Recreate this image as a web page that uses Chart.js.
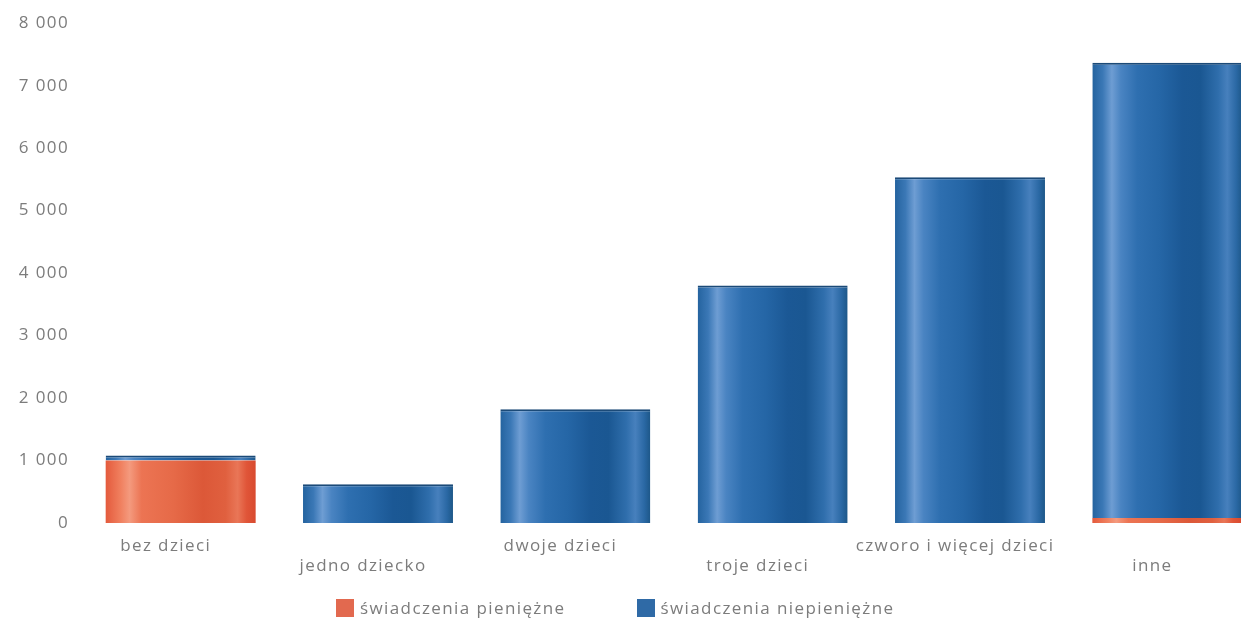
<!DOCTYPE html>
<html>
<head>
<meta charset="utf-8">
<script src="https://cdn.jsdelivr.net/npm/chart.js@4"></script>
<style>
  html, body { margin: 0; padding: 0; background: #fff; overflow: hidden; width: 1241px; height: 620px; }
  #wrap { position: absolute; left: 0; top: 0; width: 1266px; height: 598px; }
  #legend { position: absolute; left: 336px; top: 596px; display: flex; align-items: center;
            font-family: 'Open Sans', sans-serif; font-size: 17px; color: #7c7c7c; letter-spacing: 1.4px; white-space: nowrap; }
  .item { display: flex; align-items: center; }
  .item + .item { margin-left: 71px; }
  .box { width: 18px; height: 18px; margin-right: 6px; }
</style>
</head>
<body>
<div id="wrap"><canvas id="c"></canvas></div>
<div id="legend"></div>
<script>
// ---- data ----
const categories = ['bez dzieci', 'jedno dziecko', 'dwoje dzieci', 'troje dzieci', 'czworo i więcej dzieci', 'inne'];
const seriesNames = ['świadczenia pieniężne', 'świadczenia niepieniężne'];
const pieniezne = [1000, 0, 0, 0, 0, 80];
const niepieniezne = [80, 620, 1820, 3800, 5535, 7285];
const yTicks = [0, 1000, 2000, 3000, 4000, 5000, 6000, 7000, 8000];
const seriesColors = ['#e2694f', '#2f6aa6'];

// ---- styling helpers ----
const CAT_PCT = 0.76;
const redStops = [[0, '#e45a3c'], [0.1, '#f0805f'], [0.16, '#f49a7e'], [0.24, '#ec7453'], [0.45, '#e66a48'], [0.65, '#dc5838'], [0.8, '#e0603f'], [0.88, '#e97657'], [0.94, '#e05538'], [1, '#d84a2f']];
const blueStops = [[0, '#24639f'], [0.07, '#3b78b6'], [0.13, '#6e9dd3'], [0.19, '#4a84c2'], [0.3, '#2e6fb0'], [0.45, '#2566a6'], [0.6, '#1b5895'], [0.72, '#1a5792'], [0.84, '#2f6eac'], [0.9, '#4780bd'], [0.96, '#2a68a4'], [1, '#1d5788']];

function barGradient(stops, fallback) {
  return (ctx) => {
    const chart = ctx.chart;
    const xs = chart.scales && chart.scales.x;
    if (ctx.type !== 'data' || !xs || !chart.chartArea) return fallback;
    const cx = xs.getPixelForValue(ctx.dataIndex);
    const w = (xs.width / categories.length) * CAT_PCT;
    const g = chart.ctx.createLinearGradient(cx - w / 2, 0, cx + w / 2, 0);
    stops.forEach(([o, c]) => g.addColorStop(o, c));
    return g;
  };
}

const spacingPlugin = {
  id: 'spacing',
  beforeUpdate(c) { c.ctx.letterSpacing = '1.4px'; },
  beforeLayout(c) { c.ctx.letterSpacing = '1.4px'; },
  beforeDraw(c) { c.ctx.letterSpacing = '1.4px'; }
};

const font = { family: "'Open Sans', sans-serif", size: 17, weight: 'normal' };

new Chart(document.getElementById('c'), {
  type: 'bar',
  data: {
    labels: categories,
    datasets: [
      { label: seriesNames[0], data: pieniezne, backgroundColor: barGradient(redStops, seriesColors[0]), borderWidth: 0 },
      { label: seriesNames[1], data: niepieniezne, backgroundColor: barGradient(blueStops, seriesColors[1]),
        borderColor: '#1b4a78', borderWidth: { top: 2, left: 0, right: 0, bottom: 0 } }
    ]
  },
  options: {
    responsive: true,
    maintainAspectRatio: false,
    animation: false,
    datasets: { bar: { categoryPercentage: CAT_PCT, barPercentage: 1 } },
    layout: { padding: { top: 14, right: 0, bottom: 9, left: 0 } },
    plugins: { legend: { display: false }, tooltip: { enabled: false } },
    scales: {
      x: {
        stacked: true,
        grid: { display: false, drawTicks: false },
        border: { display: false },
        ticks: {
          color: '#7c7c7c', font: { ...font, lineHeight: '20px' }, padding: 13, labelOffset: -15,
          maxRotation: 0, autoSkip: false,
          callback: (v, i) => i % 2 === 1 ? ['', categories[i]] : [categories[i]]
        }
      },
      y: {
        stacked: true,
        min: yTicks[0], max: yTicks[yTicks.length - 1],
        grid: { display: false, drawTicks: false },
        border: { display: false },
        afterFit: (s) => { s.width = 82; },
        afterBuildTicks: (s) => { s.ticks = yTicks.map(v => ({ value: v })); },
        ticks: {
          color: '#7c7c7c', font, padding: 13,
          callback: (v) => String(v).replace(/\B(?=(\d{3})+(?!\d))/g, ' ')
        }
      }
    }
  },
  plugins: [spacingPlugin]
});

// HTML legend from the series arrays
const lg = document.getElementById('legend');
seriesNames.forEach((n, i) => {
  const it = document.createElement('div'); it.className = 'item';
  const b = document.createElement('div'); b.className = 'box'; b.style.background = seriesColors[i];
  const t = document.createElement('span'); t.textContent = n;
  it.appendChild(b); it.appendChild(t); lg.appendChild(it);
});
</script>
</body>
</html>
